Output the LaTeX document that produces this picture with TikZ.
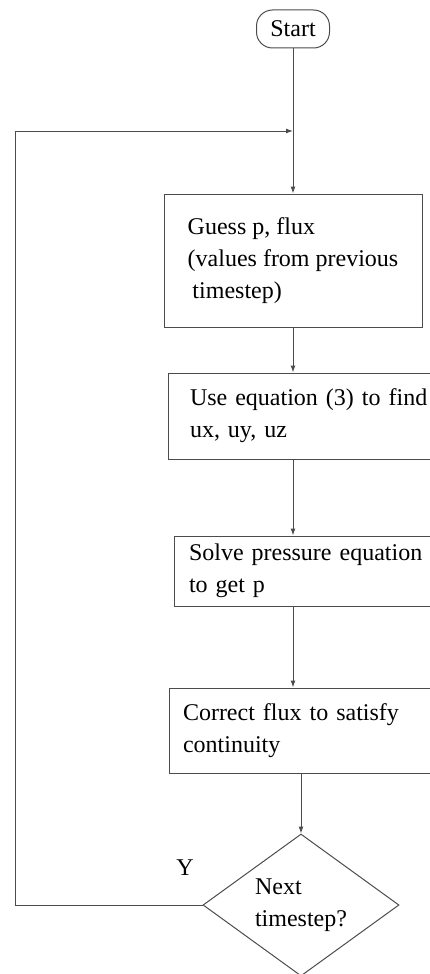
\documentclass[tikz,border=0pt]{standalone}
\usepackage{fontspec}
\setmainfont{Liberation Serif}
\usetikzlibrary{arrows.meta, positioning, shapes.geometric}
\tikzstyle{every picture} = [x=1pt, y=-1pt, >={Latex[length=7pt, width=5pt]}, font=\fontsize{24}{32}\selectfont, line width=1pt]
\tikzstyle{block} = [draw=black!70, rectangle, align=left, inner sep=0pt]
\tikzstyle{link} = [draw=black!70]

\begin{document}
\begin{tikzpicture}
            \useasboundingbox (0,0) rectangle (430,974);
            \node (node 1) [draw=black!70, rounded corners=16pt, minimum width=73, minimum height=38, inner sep=0pt] at (293,29) {Start};
            \node (node 2) [block, minimum width=258, minimum height=133] at (293,260.5) {Guess p, flux\\(values from previous\\\hspace*{0.2em}timestep)};
            \node (node 3) [block, minimum width=304, minimum height=86, text width=260] at (320,416) {Use equation (3) to find\\ux, uy, uz};
            \node (node 4) [block, minimum width=290, minimum height=70, text width=260] at (319,571) {Solve pressure equation\\to get p};
            \node (node 5) [block, minimum width=288, minimum height=85, text width=260] at (313,730.5) {Correct flux to satisfy\\continuity};
            \node (node 6) [diamond, draw=black!70, aspect=1.3, minimum width=196, minimum height=142, inner sep=0pt, align=left] at (301,905) {Next\\timestep?};
            \node (node 7) at (185,868) {Y};

            \coordinate (axis) at (293,0);
            \coordinate (back) at (15,131);

            \path (node 1) edge[->,link] (node 2)
                  (node 2.south) edge[->,link] (node 2.south |- node 3.north)
                  (axis |- node 3.south) edge[->,link] (axis |- node 4.north)
                  (axis |- node 4.south) edge[->,link] (axis |- node 5.north)
                  (node 6.north |- node 5.south) edge[->,link] (node 6.north);
            \draw[->,link] (node 6.west) -| (back) -- (axis |- back);
        \end{tikzpicture}
\end{document}
